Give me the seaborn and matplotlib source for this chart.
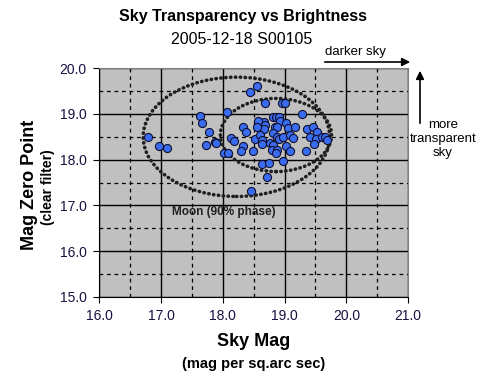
import numpy as np
import pandas as pd
import matplotlib
matplotlib.use('Agg')
import matplotlib.pyplot as plt
import seaborn as sns
from matplotlib.patches import Ellipse

# sky brightness (mag / sq arcsec) and zero point
sky_mag = [16.79, 16.97, 17.09, 17.63, 17.67, 17.77, 17.73, 17.87, 17.89, 18.06,
           18.02, 18.09, 18.13, 18.18, 18.44, 18.56, 18.45,
           18.68, 18.95, 19.00, 19.28, 18.33, 18.37, 18.32, 18.30,
           18.67, 18.82, 18.86, 18.91, 18.92, 18.57, 18.68, 18.67, 18.55, 18.84,
           18.88, 19.03, 19.06, 19.17, 18.52, 18.60, 18.63, 18.82, 18.87, 18.91,
           18.98, 19.09, 19.14, 18.49, 18.63, 18.76, 18.82, 18.79, 18.87, 18.86,
           19.03, 19.09, 18.97, 18.63, 18.75, 18.72, 19.36, 19.41, 19.46, 19.52,
           19.51, 19.48, 19.60, 19.65, 19.68, 19.35]
zero_point = [18.50, 18.30, 18.26, 18.96, 18.81, 18.61, 18.31, 18.39, 18.36, 19.05,
              18.14, 18.14, 18.48, 18.41, 19.48, 19.61, 17.32,
              19.25, 19.25, 19.25, 19.00, 18.72, 18.61, 18.29, 18.18,
              18.83, 18.93, 18.94, 18.94, 18.85, 18.85, 18.76, 18.66, 18.72, 18.72,
              18.71, 18.80, 18.69, 18.72, 18.45, 18.54, 18.42, 18.58, 18.50, 18.45,
              18.50, 18.54, 18.47, 18.18, 18.34, 18.36, 18.32, 18.21, 18.21, 18.14,
              18.29, 18.18, 17.98, 17.91, 17.92, 17.61, 18.66, 18.49, 18.72, 18.61,
              18.45, 18.34, 18.49, 18.50, 18.42, 18.18]

df = pd.DataFrame({'sky_mag': sky_mag, 'zero_point': zero_point})

plt.rcParams['font.family'] = ['Liberation Sans', 'DejaVu Sans']

fig = plt.figure(figsize=(4.87, 3.90), dpi=100)
ax = fig.add_axes([0.204, 0.239, 0.634, 0.586])
ax.set_facecolor('#c0c0c0')

sns.scatterplot(data=df, x='sky_mag', y='zero_point', ax=ax, s=34,
                color='#3a6cf0', edgecolor='#101030', linewidth=0.8, zorder=5)

# moon ellipses
for centre, w, h in [((18.22, 18.50), 3.02, 2.61), ((18.86, 18.54), 1.80, 1.60)]:
    e = Ellipse(centre, w, h, fill=False, edgecolor='#202020',
                linestyle=(0, (0.1, 1.25)), linewidth=2.6, zorder=4)
    e.set_capstyle('round')
    ax.add_patch(e)
ax.text(18.02, 16.86, 'Moon (90% phase)', ha='center', va='center',
        fontsize=8.5, fontweight='bold', color='#202020', zorder=6)

ax.set_xlim(16, 21)
ax.set_ylim(15, 20)
ax.set_xticks(np.arange(16, 21.1, 1))
ax.set_yticks(np.arange(15, 20.1, 1))
ax.set_xticks(np.arange(16.5, 21, 1), minor=True)
ax.set_yticks(np.arange(15.5, 20, 1), minor=True)
ax.set_xticklabels([f'{v:.1f}' for v in np.arange(16, 21.1, 1)])
ax.set_yticklabels([f'{v:.1f}' for v in np.arange(15, 20.1, 1)])
ax.tick_params(which='major', length=4, direction='out', labelsize=10,
               labelcolor='#1a1040', pad=5)
ax.tick_params(which='minor', length=0)
ax.grid(which='major', color='black', linewidth=1.0, linestyle='-')
ax.grid(which='minor', color='black', linewidth=0.9, linestyle=(0, (3, 3)))
ax.set_axisbelow(True)
for side in ['top', 'right']:
    ax.spines[side].set_color('#808080')
for side in ['left', 'bottom']:
    ax.spines[side].set_color('black')
ax.set_xlabel('')
ax.set_ylabel('')

W, H = 487, 390
fig.text(243 / W, 1 - 16 / H, 'Sky Transparency vs Brightness', ha='center', va='center',
         fontsize=11.5, fontweight='bold')
fig.text(242 / W, 1 - 40 / H, '2005-12-18 S00105', ha='center', va='center', fontsize=11.5)
fig.text(254 / W, 1 - 341 / H, 'Sky Mag', ha='center', va='center',
         fontsize=13, fontweight='bold')
fig.text(254 / W, 1 - 364 / H, '(mag per sq.arc sec)', ha='center', va='center',
         fontsize=10.5, fontweight='bold')
fig.text(30 / W, 1 - 185 / H, 'Mag Zero Point', ha='center', va='center', rotation=90,
         fontsize=13, fontweight='bold')
fig.text(48 / W, 1 - 187 / H, '(clear filter)', ha='center', va='center', rotation=90,
         fontsize=10, fontweight='bold')

# direction hints
fig.text(325 / W, 1 - 52 / H, 'darker sky', ha='left', va='center', fontsize=9.5)
ax.annotate('', xy=(413 / W, 1 - 62 / H), xytext=(322 / W, 1 - 62 / H),
            xycoords='figure fraction', textcoords='figure fraction',
            arrowprops=dict(arrowstyle='-|>', color='black', lw=1.2, mutation_scale=12))
ax.annotate('', xy=(420 / W, 1 - 68 / H), xytext=(420 / W, 1 - 126 / H),
            xycoords='figure fraction', textcoords='figure fraction',
            arrowprops=dict(arrowstyle='-|>', color='black', lw=1.2, mutation_scale=12))
fig.text(443 / W, 1 - 139 / H, 'more\ntransparent\nsky', ha='center', va='center',
         fontsize=9.5, linespacing=1.2)

fig.savefig('out.png', dpi=100)
